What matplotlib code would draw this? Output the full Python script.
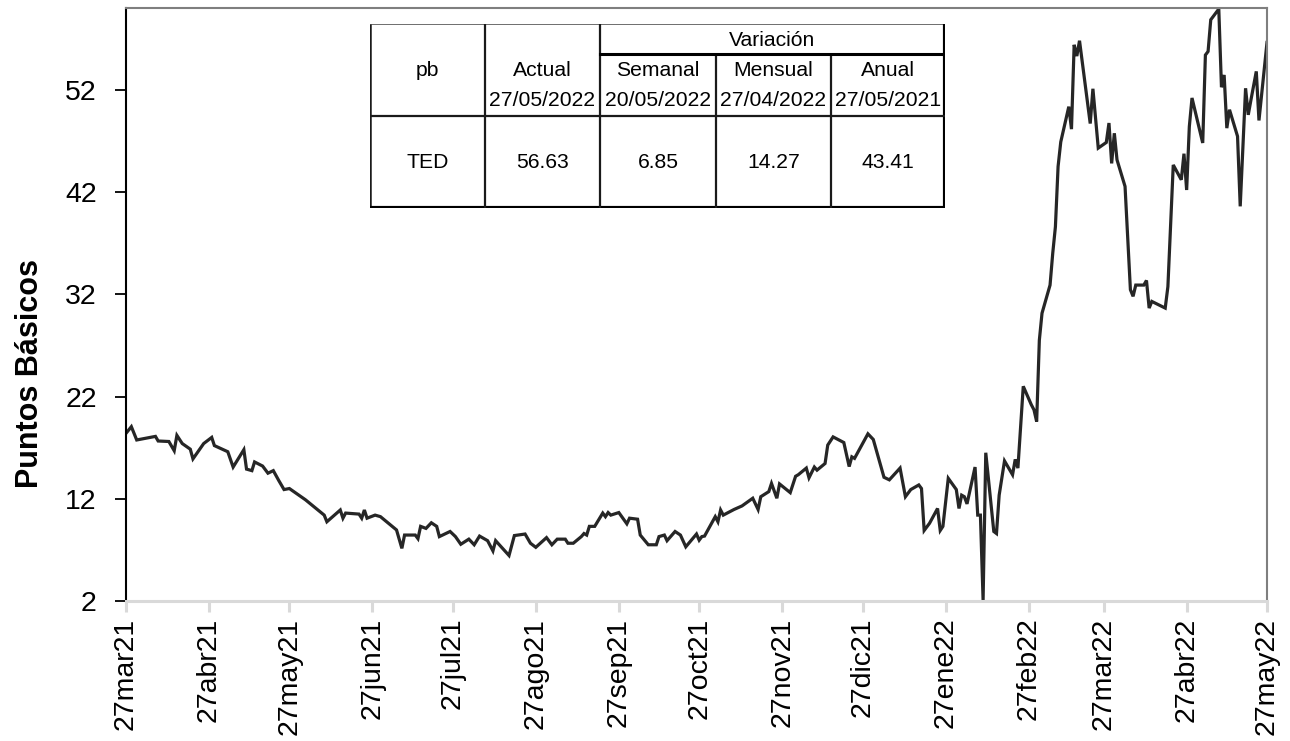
import matplotlib
matplotlib.use("Agg")
import matplotlib.pyplot as plt
import pandas as pd
import numpy as np

plt.rcParams['font.family'] = ['Liberation Sans', 'DejaVu Sans']

# ---- data ----
start_date = "2021-03-27"
day_offsets = [0, 2, 4, 11, 12, 16, 18, 19, 21, 24, 25, 29, 32, 33, 38, 40, 44, 45, 47, 48,
               51, 53, 55, 57, 59, 61, 67, 74, 75, 80, 81, 82, 87, 88, 89, 90, 93, 95, 101, 103,
               104, 108, 109, 110, 112, 114, 116, 117, 121, 123, 125, 128, 130, 132, 135, 137, 138, 143, 145, 149,
               151, 153, 157, 159, 161, 164, 165, 167, 170, 171, 172, 173, 175, 178, 179, 180, 181, 184, 187, 188,
               191, 192, 195, 198, 199, 201, 202, 205, 207, 209, 213, 214, 215, 216, 220, 221, 222, 223, 227, 230,
               234, 236, 237, 240, 241, 243, 244, 248, 250, 251, 254, 255, 257, 258, 261, 262, 264, 268, 270, 271,
               272, 277, 279, 283, 285, 289, 291, 293, 296, 297, 298, 300, 303, 304, 305, 307, 310, 311, 312, 313,
               314, 317, 318, 319, 320, 321, 324, 325, 326, 328, 331, 332, 333, 335, 338, 339, 340, 341, 342, 345,
               346, 347, 348, 349, 352, 353, 354, 355, 356, 360, 361, 363, 366, 367, 368, 369, 370, 373, 375, 376,
               377, 380, 381, 382, 383, 388, 389, 391, 394, 395, 396, 397, 398, 402, 403, 404, 405, 408, 409, 410,
               411, 412, 415, 416, 418, 419, 420, 422, 423, 426]
ted_values = [18.4, 19.05, 17.75, 18.1, 17.65, 17.6, 16.7, 18.2, 17.4, 16.85, 15.9, 17.4, 18.0, 17.2, 16.6, 15.1, 16.8, 14.9, 14.75, 15.6,
              15.2, 14.5, 14.75, 13.8, 12.9, 13.0, 11.9, 10.4, 9.75, 10.9, 10.1, 10.6, 10.5, 10.1, 10.9, 10.1, 10.4, 10.25, 8.95, 7.15,
              8.45, 8.45, 8.1, 9.3, 9.1, 9.65, 9.3, 8.3, 8.8, 8.3, 7.55, 8.05, 7.5, 8.35, 7.9, 6.9, 7.9, 6.45, 8.4, 8.55,
              7.65, 7.25, 8.2, 7.5, 8.05, 8.05, 7.65, 7.65, 8.3, 8.6, 8.45, 9.3, 9.3, 10.6, 10.25, 10.65, 10.4, 10.65, 9.55, 10.1,
              10.0, 8.45, 7.5, 7.5, 8.3, 8.45, 7.9, 8.8, 8.45, 7.3, 8.55, 7.95, 8.3, 8.35, 10.25, 9.75, 10.9, 10.4, 10.95, 11.3,
              12.05, 10.95, 12.2, 12.7, 13.5, 12.05, 13.45, 12.6, 14.2, 14.35, 15.0, 14.05, 15.1, 14.8, 15.45, 17.25, 18.05, 17.5, 15.15, 16.1,
              15.95, 18.35, 17.8, 14.1, 13.85, 15.0, 12.2, 12.9, 13.35, 13.0, 8.9, 9.6, 11.05, 8.9, 9.3, 14.0, 12.9, 11.05, 12.35, 12.2,
              11.5, 15.1, 10.4, 10.4, 2.1, 16.5, 8.8, 8.6, 12.35, 15.7, 14.35, 15.85, 15.0, 23.0, 21.2, 20.7, 19.55, 27.5, 30.15, 32.9,
              36.0, 38.6, 44.5, 46.9, 50.35, 48.15, 56.4, 55.3, 56.8, 48.7, 52.1, 46.3, 46.85, 48.75, 44.8, 47.75, 45.15, 42.55, 32.45, 31.8,
              32.9, 32.9, 33.35, 30.65, 31.3, 30.65, 32.75, 44.65, 43.2, 45.75, 42.2, 48.4, 51.2, 46.8, 55.4, 55.75, 58.85, 59.9, 52.25, 53.45,
              48.25, 50.05, 47.45, 40.6, 52.15, 49.55, 51.0, 53.8, 49.0, 56.63]

tick_dates = ["2021-03-27", "2021-04-27", "2021-05-27", "2021-06-27", "2021-07-27", "2021-08-27",
              "2021-09-27", "2021-10-27", "2021-11-27", "2021-12-27", "2022-01-27", "2022-02-27",
              "2022-03-27", "2022-04-27", "2022-05-27"]
tick_labels = ["27mar21", "27abr21", "27may21", "27jun21", "27jul21", "27ago21", "27sep21",
               "27oct21", "27nov21", "27dic21", "27ene22", "27feb22", "27mar22", "27abr22", "27may22"]
y_ticks = [2, 12, 22, 32, 42, 52]
y_label = "Puntos Básicos"

table_header_top = ["Variación"]
table_cols = ["pb", "Actual\n27/05/2022", "Semanal\n20/05/2022", "Mensual\n27/04/2022", "Anual\n27/05/2021"]
table_row = ["TED", "56.63", "6.85", "14.27", "43.41"]

# ---- figure ----
W, H = 1290, 741
fig = plt.figure(figsize=(W / 100, H / 100), dpi=100)
ax = fig.add_axes([126 / W, 1 - 601 / H, (1267 - 126) / W, (601 - 8) / H])

dates = pd.Timestamp(start_date) + pd.to_timedelta(day_offsets, unit="D")
ax.plot(dates, ted_values, color="#262626", lw=2.3, solid_joinstyle="miter")

tdates = pd.to_datetime(tick_dates)
ax.set_xlim(tdates[0], tdates[-1])
ax.set_ylim(2, 60)
ax.set_xticks(tdates)
ax.set_xticklabels(tick_labels, rotation=90, fontsize=20.5)
ax.set_yticks(y_ticks)
ax.set_yticklabels([str(v) for v in y_ticks], fontsize=20.5)
ax.set_ylabel(y_label, fontsize=22, fontweight="bold")
ax.yaxis.set_label_coords(-0.071, 0.383)

for side in ["top", "right"]:
    ax.spines[side].set_color("#7f7f7f")
    ax.spines[side].set_linewidth(1.5)
ax.spines["left"].set_color("#000000")
ax.spines["left"].set_linewidth(1.5)
ax.spines["bottom"].set_color("#d9d9d9")
ax.spines["bottom"].set_linewidth(2.2)
ax.tick_params(axis="x", direction="out", length=8, width=2.2, color="#d9d9d9", pad=4)
ax.tick_params(axis="y", direction="out", length=8, width=1.3, color="#000000", pad=13)

# ---- table inset ----
tx0, ty0, tx1, ty1 = 370, 24, 945, 208
tax = fig.add_axes([tx0 / W, 1 - ty1 / H, (tx1 - tx0) / W, (ty1 - ty0) / H])
tax.set_xlim(tx0, tx1)
tax.set_ylim(ty1, ty0)
tax.axis("off")
tax.add_patch(plt.Rectangle((tx0, ty0), tx1 - tx0, ty1 - ty0, facecolor="white", edgecolor="none", zorder=0))
col_edges = [370, 485, 600, 716, 831, 945]
row_mid = 116
var_line = 54
lk = dict(color="#1a1a1a", solid_capstyle="butt")
tax.plot([tx0, tx1], [ty0, ty0], lw=1.2, color="#555555")
tax.plot([tx0, tx0], [ty0, ty1], lw=1.8, **lk)
tax.plot([tx1, tx1], [ty0 - 1, ty1], lw=3, color="#000000")
tax.plot([tx0, tx1 + 1], [ty1, ty1], lw=3, color="#000000")
for cx in col_edges[1:-1]:
    top = ty0 if cx == col_edges[1] or cx == col_edges[2] else var_line
    tax.plot([cx, cx], [top, ty1], lw=1.6, **lk)
tax.plot([col_edges[2], tx1], [var_line, var_line], lw=2.2, color="#000000")
tax.plot([tx0, tx1], [row_mid, row_mid], lw=1.6, **lk)

fs = 15.2
tax.text((col_edges[2] + tx1) / 2, 40, table_header_top[0], ha="center", va="center", fontsize=fs)
for i, lab in enumerate(table_cols):
    cx = (col_edges[i] + col_edges[i + 1]) / 2
    parts = lab.split("\n")
    tax.text(cx, 71, parts[0], ha="center", va="center", fontsize=fs)
    if len(parts) > 1:
        tax.text(cx, 100, parts[1], ha="center", va="center", fontsize=fs)
for i, val in enumerate(table_row):
    cx = (col_edges[i] + col_edges[i + 1]) / 2
    tax.text(cx, 162, val, ha="center", va="center", fontsize=fs)

fig.savefig("out.png", dpi=100, facecolor="white")
